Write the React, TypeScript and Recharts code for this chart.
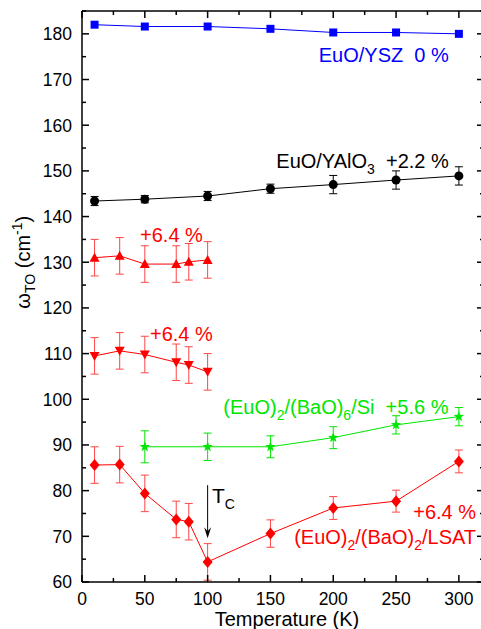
import React from "react";
import { ComposedChart, Line, XAxis, YAxis, ErrorBar, ReferenceDot, ReferenceLine } from "recharts";

// temperature (K) and omega_TO (cm^-1) per sample
const tYsz = [10, 50, 100, 150, 200, 250, 300];
const wYsz = [182.0, 181.6, 181.6, 181.1, 180.3, 180.3, 180.0];

const tYalo = [10, 50, 100, 150, 200, 250, 300];
const wYalo = [143.4, 143.8, 144.5, 146.1, 147.0, 148.0, 148.9];
const eYalo = [1.0, 0.8, 1.0, 1.0, 2.0, 2.0, 2.0];

const tSl = [10, 30, 50, 75, 85, 100];
const wUp = [131.0, 131.4, 129.6, 129.6, 130.1, 130.5];
const eUp = [4, 4, 4, 4, 4, 4];
const wDown = [109.5, 110.6, 109.8, 108.1, 107.5, 106.0];
const eDown = [4, 4, 4, 4, 4, 4];

const tSi = [50, 100, 150, 200, 250, 300];
const wSi = [89.6, 89.6, 89.6, 91.6, 94.4, 96.2];
const eSi = [3.5, 3.0, 2.4, 2.4, 2.0, 2.0];

const tLsat = [10, 30, 50, 75, 85, 100, 150, 200, 250, 300];
const wLsat = [85.6, 85.7, 79.4, 73.7, 73.2, 64.4, 70.6, 76.2, 77.7, 86.4];
const eLsat = [4, 4, 4, 4, 4, 4, 3.0, 2.5, 2.4, 2.5];

const xTicks = [0, 25, 50, 75, 100, 125, 150, 175, 200, 225, 250, 275, 300];
const yTicks = [60, 65, 70, 75, 80, 85, 90, 95, 100, 105, 110, 115, 120, 125, 130, 135, 140, 145, 150, 155, 160, 165, 170, 175, 180, 185];

const build = (t: number[], w: number[], e?: number[]) =>
  t.map((x, i) => ({ t: x, w: w[i], e: e ? e[i] : 0 }));

const FONT = '"Liberation Sans", Arial, Helvetica, sans-serif';
const BLUE = "#0000ff";
const RED = "#ff0000";
const RED_ERR = "#ff4646";
const GREEN = "#00e600";
const GAP = 10;

const Marker = ({ kind, cx, cy, color }: any) => {
  if (cx == null || cy == null) return null;
  switch (kind) {
    case "square":
      return <rect x={cx - 4} y={cy - 4} width={8} height={8} fill={color} />;
    case "circle":
      return <circle cx={cx} cy={cy} r={4.5} fill={color} />;
    case "up":
      return <path d={`M${cx},${cy - 5}L${cx + 5},${cy + 4}L${cx - 5},${cy + 4}Z`} fill={color} />;
    case "down":
      return <path d={`M${cx},${cy + 5}L${cx + 5},${cy - 4}L${cx - 5},${cy - 4}Z`} fill={color} />;
    case "diamond":
      return <path d={`M${cx},${cy - 6}L${cx + 5},${cy}L${cx},${cy + 6}L${cx - 5},${cy}Z`} fill={color} />;
    case "star": {
      let d = "";
      for (let k = 0; k < 10; k++) {
        const r = k % 2 === 0 ? 5.5 : 2.3;
        const a = -Math.PI / 2 + (k * Math.PI) / 5;
        d += `${k === 0 ? "M" : "L"}${cx + r * Math.cos(a)},${cy + r * Math.sin(a)}`;
      }
      return <path d={d + "Z"} fill={color} />;
    }
    default:
      return null;
  }
};

const dotOf = (kind: string, color: string) => (p: any) => (
  <Marker key={`${kind}-${p.index}`} kind={kind} cx={p.cx} cy={p.cy} color={color} />
);

const BottomTick = ({ x, y, payload }: any) => {
  const v = payload.value;
  const major = v % 50 === 0;
  const axisY = y - GAP;
  return (
    <g>
      <line x1={x} x2={x} y1={axisY} y2={axisY - (major ? 7 : 4)} stroke="#000" strokeWidth={1.5} />
      {major && (
        <text x={x} y={y} dy="0.72em" textAnchor="middle" fontSize={17.5} fill="#000">
          {v}
        </text>
      )}
    </g>
  );
};

const LeftTick = ({ x, y, payload }: any) => {
  const v = payload.value;
  const major = v % 10 === 0;
  const axisX = x + GAP;
  return (
    <g>
      <line x1={axisX} x2={axisX + (major ? 7 : 4)} y1={y} y2={y} stroke="#000" strokeWidth={1.5} />
      {major && v < 185 && (
        <text x={x} y={y} dy="0.36em" textAnchor="end" fontSize={17.5} fill="#000">
          {v}
        </text>
      )}
    </g>
  );
};

const TopTick = ({ x, y, payload }: any) => {
  const major = payload.value % 50 === 0;
  return <line x1={x} x2={x} y1={y} y2={y + (major ? 7 : 4)} stroke="#000" strokeWidth={1.5} />;
};

const RightTick = ({ x, y, payload }: any) => {
  const major = payload.value % 10 === 0;
  return <line x1={x} x2={x - (major ? 7 : 4)} y1={y} y2={y} stroke="#000" strokeWidth={1.5} />;
};

const XTitle = ({ viewBox }: any) => (
  <text x={viewBox.x + viewBox.width / 2 + 4} y={viewBox.y + 44} textAnchor="middle" fontSize={20} fill="#000">
    Temperature (K)
  </text>
);

const YTitle = ({ viewBox }: any) => {
  const cx = 30;
  const cy = viewBox.y + viewBox.height * 0.44;
  return (
    <text x={cx} y={cy} textAnchor="middle" fontSize={20} fill="#000" transform={`rotate(-90, ${cx}, ${cy})`}>
      ω
      <tspan fontSize={14} dy={5}>TO</tspan>
      <tspan dy={-5}> (cm</tspan>
      <tspan fontSize={14} dy={-8}>-1</tspan>
      <tspan dy={8}>)</tspan>
    </text>
  );
};

// text placed at a data point (baseline)
const note = (parts: { s: string; sub?: boolean }[], color: string, anchor: "start" | "end", size = 20) =>
  (p: any) => (
    <text x={p.cx} y={p.cy} textAnchor={anchor} fontSize={size} fill={color} style={{ whiteSpace: "pre" }}>
      {parts.map((q, i) =>
        q.sub ? (
          <tspan key={i} fontSize={14} dy={6}>{q.s}</tspan>
        ) : (
          <tspan key={i} dy={i > 0 && parts[i - 1].sub ? -6 : 0}>{q.s}</tspan>
        )
      )}
    </text>
  );

const Arrow = (p: any) => {
  const { x1, y1, x2, y2 } = p;
  const top = Math.min(y1, y2);
  const tip = Math.max(y1, y2);
  return (
    <g>
      <line x1={x1} x2={x2} y1={top} y2={tip - 4} stroke="#000" strokeWidth={1} />
      <path d={`M${x1},${tip}L${x1 + 3.5},${tip - 11}L${x1},${tip - 7}L${x1 - 3.5},${tip - 11}Z`} fill="#000" />
    </g>
  );
};

const App = () => {
  return (
    <div style={{ position: "absolute", left: 0, top: 0, width: 481, height: 629, overflow: "hidden", background: "#fff", fontFamily: FONT }}>
      <ComposedChart width={490} height={629} margin={{ top: 10, right: 5, left: 0, bottom: 17 }}>
        <XAxis
          type="number"
          dataKey="t"
          domain={[0, 320]}
          ticks={xTicks}
          interval={0}
          allowDataOverflow
          height={30}
          tickSize={0}
          tickMargin={GAP}
          tickLine={false}
          tick={<BottomTick />}
          axisLine={{ stroke: "#000", strokeWidth: 1.5 }}
          label={<XTitle />}
        />
        <XAxis
          xAxisId="top"
          orientation="top"
          type="number"
          dataKey="t"
          domain={[0, 320]}
          ticks={xTicks}
          interval={0}
          allowDataOverflow
          height={1}
          tickSize={0}
          tickMargin={0}
          tickLine={false}
          tick={<TopTick />}
          axisLine={{ stroke: "#000", strokeWidth: 1.5 }}
        />
        <YAxis
          type="number"
          domain={[60, 185]}
          ticks={yTicks}
          interval={0}
          allowDataOverflow
          width={82}
          tickSize={0}
          tickMargin={GAP}
          tickLine={false}
          tick={<LeftTick />}
          axisLine={{ stroke: "#000", strokeWidth: 1.5 }}
          label={<YTitle />}
        />
        <YAxis
          yAxisId="right"
          orientation="right"
          type="number"
          domain={[60, 185]}
          ticks={yTicks}
          interval={0}
          allowDataOverflow
          width={1}
          tickSize={0}
          tickMargin={0}
          tickLine={false}
          tick={<RightTick />}
          axisLine={{ stroke: "#000", strokeWidth: 1.5 }}
        />

        <Line data={build(tYsz, wYsz)} dataKey="w" stroke={BLUE} strokeWidth={1} dot={dotOf("square", BLUE)} activeDot={false} isAnimationActive={false} />
        <Line data={build(tYalo, wYalo, eYalo)} dataKey="w" stroke="#000" strokeWidth={1} dot={dotOf("circle", "#000")} activeDot={false} isAnimationActive={false}>
          <ErrorBar dataKey="e" width={4} stroke="#000" strokeWidth={1} direction="y" />
        </Line>
        <Line data={build(tSl, wUp, eUp)} dataKey="w" stroke={RED} strokeWidth={1} dot={dotOf("up", RED)} activeDot={false} isAnimationActive={false}>
          <ErrorBar dataKey="e" width={4} stroke={RED_ERR} strokeWidth={1} direction="y" />
        </Line>
        <Line data={build(tSl, wDown, eDown)} dataKey="w" stroke={RED} strokeWidth={1} dot={dotOf("down", RED)} activeDot={false} isAnimationActive={false}>
          <ErrorBar dataKey="e" width={4} stroke={RED_ERR} strokeWidth={1} direction="y" />
        </Line>
        <Line data={build(tSi, wSi, eSi)} dataKey="w" stroke={GREEN} strokeWidth={1} dot={dotOf("star", GREEN)} activeDot={false} isAnimationActive={false}>
          <ErrorBar dataKey="e" width={4} stroke={GREEN} strokeWidth={1} direction="y" />
        </Line>
        <Line data={build(tLsat, wLsat, eLsat)} dataKey="w" stroke={RED} strokeWidth={1} dot={dotOf("diamond", RED)} activeDot={false} isAnimationActive={false}>
          <ErrorBar dataKey="e" width={4} stroke={RED_ERR} strokeWidth={1} direction="y" />
        </Line>

        <ReferenceDot x={292} y={173.8} r={0} shape={note([{ s: "EuO/YSZ  0 %" }], BLUE, "end")} />
        <ReferenceDot x={292} y={150.6} r={0} shape={note([{ s: "EuO/YAlO" }, { s: "3", sub: true }, { s: "  +2.2 %" }], "#000", "end")} />
        <ReferenceDot x={46.2} y={134.4} r={0} shape={note([{ s: "+6.4 %" }], RED, "start")} />
        <ReferenceDot x={54.1} y={112.8} r={0} shape={note([{ s: "+6.4 %" }], RED, "start")} />
        <ReferenceDot
          x={291.7}
          y={96.8}
          r={0}
          shape={note([{ s: "(EuO)" }, { s: "2", sub: true }, { s: "/(BaO)" }, { s: "6", sub: true }, { s: "/Si  +5.6 %" }], GREEN, "end")}
        />
        <ReferenceDot x={313.7} y={73.7} r={0} shape={note([{ s: "+6.4 %" }], RED, "end")} />
        <ReferenceDot
          x={313.7}
          y={68.4}
          r={0}
          shape={note([{ s: "(EuO)" }, { s: "2", sub: true }, { s: "/(BaO)" }, { s: "2", sub: true }, { s: "/LSAT" }], RED, "end")}
        />
        <ReferenceDot x={103.5} y={77.2} r={0} shape={note([{ s: "T" }, { s: "C", sub: true }], "#000", "start", 21)} />
        <ReferenceLine
          segment={[{ x: 100, y: 81.2 }, { x: 100, y: 69.6 }]}
          stroke="#000"
          shape={<Arrow />}
        />
      </ComposedChart>
    </div>
  );
};

export default App;
